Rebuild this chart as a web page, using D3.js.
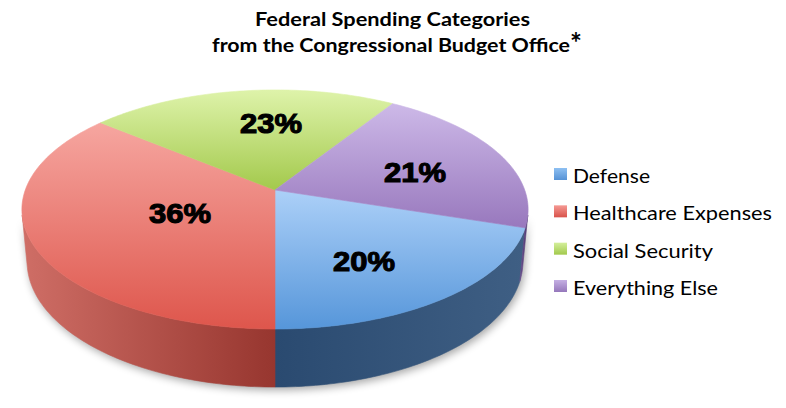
<!DOCTYPE html>
<html>
<head>
<meta charset="utf-8">
<script src="https://cdn.jsdelivr.net/npm/d3@7/dist/d3.min.js"></script>
<style>
  html, body { margin: 0; padding: 0; background: #fff; }
  svg { display: block; }
</style>
</head>
<body>
<svg id="chart" width="786" height="408"></svg>
<script>
// ---------------- data ----------------
const categories = ["Defense", "Healthcare Expenses", "Social Security", "Everything Else"];
const values = [20, 36, 23, 21];
const labels = ["20%", "36%", "23%", "21%"];
const titleLines = ["Federal Spending Categories", "from the Congressional Budget Office"];

// ---------------- style / layout ----------------
const topColors  = [["#acd0f8", "#5696da"], ["#f6a6a0", "#de564c"], ["#def3aa", "#a3c94c"], ["#cdb9e8", "#9878bd"]];
const sideColors = [["#2a4a70", "#3f5f84"], ["#cf6e66", "#97362f"], ["#8aa840", "#6d8a2c"], ["#6a4f8e", "#4f3870"]];
const legendColors = [["#8ec0f2", "#5592d6"], ["#f59a94", "#d9524a"], ["#d4ef9c", "#a2c94c"], ["#c5b0e3", "#9577bb"]];
const legendWidths = [77, 199, 140, 145];
const labelNudgeDeg = [5.7, -2.2, 7.4, 4.4];
const labelRadius = [0.643, 0.415, 0.635, 0.597];

const svg = d3.select("#chart");
const defs = svg.append("defs");

// perspective projection of a unit-radius cylinder
const cx = 275, cy = 190, K = 1356, Dist = 5.43, thick = 0.238;
const phi = Math.asin(0.466);
const sP = Math.sin(phi), cP = Math.cos(phi);
function project(X, Yd, Z) {
  const u = X, v = Yd * sP - Z * cP, w = Dist - (Yd * cP + Z * sP);
  return [cx + K * u / w, cy + K * v / w];
}
const rim = (t, z, r = 1) => project(r * Math.sin(t), -r * Math.cos(t), z);

const pie = d3.pie().sort(null).value(d => d)
  .startAngle(108 * Math.PI / 180).endAngle(108 * Math.PI / 180 + 2 * Math.PI);
const arcs = pie(values);

const line = d3.line();
function samples(a0, a1) {
  const n = Math.max(2, Math.ceil(Math.abs(a1 - a0) / (Math.PI / 180)));
  return d3.range(n + 1).map(i => a0 + (a1 - a0) * i / n);
}

// visible range of the outer wall
const vis = Math.acos(-1 / (Dist * cP));
const visA = vis, visB = 2 * Math.PI - vis;

// gradients
arcs.forEach((a, i) => {
  const gt = defs.append("linearGradient").attr("id", "top" + i)
    .attr("x1", 0).attr("y1", 0).attr("x2", 0).attr("y2", 1);
  gt.append("stop").attr("offset", "0%").attr("stop-color", topColors[i][0]);
  gt.append("stop").attr("offset", "100%").attr("stop-color", topColors[i][1]);
  const gs = defs.append("linearGradient").attr("id", "side" + i)
    .attr("x1", 0).attr("y1", 0).attr("x2", 1).attr("y2", 0);
  gs.append("stop").attr("offset", "0%").attr("stop-color", sideColors[i][0]);
  gs.append("stop").attr("offset", "100%").attr("stop-color", sideColors[i][1]);
  const gl = defs.append("linearGradient").attr("id", "leg" + i)
    .attr("x1", 0).attr("y1", 0).attr("x2", 0).attr("y2", 1);
  gl.append("stop").attr("offset", "0%").attr("stop-color", legendColors[i][0]);
  gl.append("stop").attr("offset", "100%").attr("stop-color", legendColors[i][1]);
});

// soft shadow
const blur = defs.append("filter").attr("id", "blur").attr("x", "-20%").attr("y", "-20%").attr("width", "140%").attr("height", "140%");
blur.append("feGaussianBlur").attr("stdDeviation", 4);
const shadowPts = samples(visA, visB).map(t => {
  const p = rim(t, -thick, 1.0);
  return [p[0] + 2, p[1] + 3];
});
const shadowTop = samples(visA, visB).reverse().map(t => rim(t, 0, 1.0));
svg.append("path")
  .attr("d", line(shadowPts.concat(shadowTop)) + "Z")
  .attr("fill", "#000").attr("opacity", 0.35).attr("filter", "url(#blur)");

// side walls
const gSide = svg.append("g");
arcs.forEach((a, i) => {
  const ranges = [];
  [0, 2 * Math.PI, -2 * Math.PI].forEach(off => {
    const s = Math.max(a.startAngle - off, visA), e = Math.min(a.endAngle - off, visB);
    if (e > s) ranges.push([s, e]);
  });
  ranges.forEach(([s, e]) => {
    const ts = samples(s, e);
    const pts = ts.map(t => rim(t, 0)).concat(ts.slice().reverse().map(t => rim(t, -thick)));
    gSide.append("path").attr("d", line(pts) + "Z")
      .attr("fill", `url(#side${i})`)
      .attr("stroke", `url(#side${i})`).attr("stroke-width", 0.6);
  });
});

// top faces
const gTop = svg.append("g");
arcs.forEach((a, i) => {
  const pts = [project(0, 0, 0)].concat(samples(a.startAngle, a.endAngle).map(t => rim(t, 0)));
  gTop.append("path").attr("d", line(pts) + "Z")
    .attr("fill", `url(#top${i})`)
    .attr("stroke", `url(#top${i})`).attr("stroke-width", 0.6);
});

// data labels
arcs.forEach((a, i) => {
  const t = (a.startAngle + a.endAngle) / 2 + labelNudgeDeg[i] * Math.PI / 180;
  const p = rim(t, 0, labelRadius[i]);
  svg.append("text")
    .attr("x", p[0]).attr("y", p[1] + 10)
    .attr("text-anchor", "middle")
    .attr("font-family", "'Liberation Sans', Arial, sans-serif")
    .attr("font-weight", "bold").attr("font-size", 28)
    .attr("stroke", "#000").attr("stroke-width", 1.1)
    .attr("textLength", 62).attr("lengthAdjust", "spacingAndGlyphs")
    .attr("fill", "#000").text(labels[i]);
});

// title
const tg = svg.append("g").attr("font-family", "Lato, 'Open Sans', sans-serif").attr("font-weight", "bold").attr("fill", "#000");
tg.append("text").attr("x", 392.5).attr("y", 26).attr("text-anchor", "middle").attr("font-size", 19.5)
  .attr("textLength", 275).attr("lengthAdjust", "spacingAndGlyphs").text(titleLines[0]);
tg.append("text").attr("x", 391).attr("y", 52).attr("text-anchor", "middle").attr("font-size", 19.5)
  .attr("textLength", 358).attr("lengthAdjust", "spacingAndGlyphs").text(titleLines[1]);
tg.append("text").attr("x", 576).attr("y", 53).attr("text-anchor", "middle").attr("font-size", 28)
  .text("*");

// legend
const legY = d3.scalePoint().domain(categories).range([183, 295]);
const lg = svg.append("g");
categories.forEach((c, i) => {
  const y = legY(c);
  lg.append("rect").attr("x", 554).attr("y", y - 15).attr("width", 13).attr("height", 12)
    .attr("fill", `url(#leg${i})`);
  lg.append("text").attr("x", 573).attr("y", y)
    .attr("font-family", "Lato, 'Open Sans', sans-serif").attr("font-size", 20).attr("fill", "#000")
    .attr("textLength", legendWidths[i]).attr("lengthAdjust", "spacingAndGlyphs")
    .text(c);
});
</script>
</body>
</html>
